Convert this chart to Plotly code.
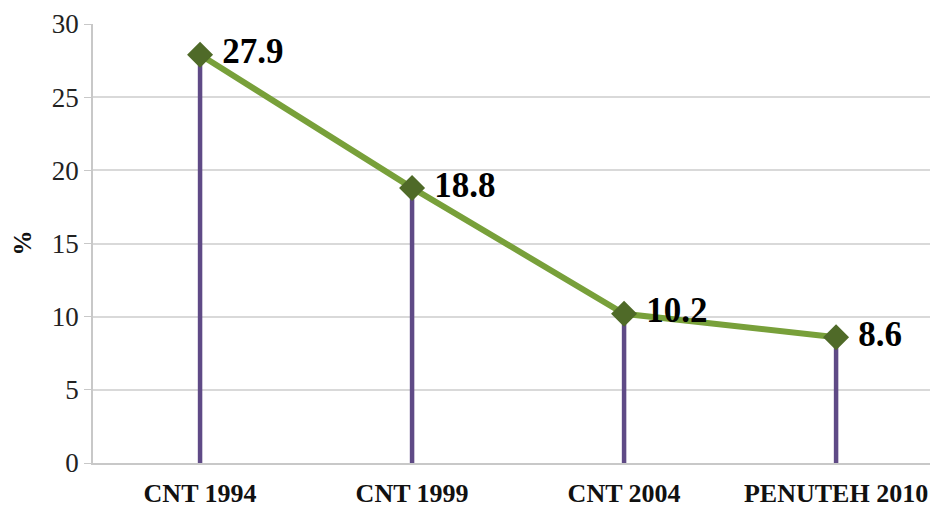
import plotly.graph_objects as go

categories = ["CNT 1994", "CNT 1999", "CNT 2004", "PENUTEH 2010"]
values = [27.9, 18.8, 10.2, 8.6]
labels = ["27.9", "18.8", "10.2", "8.6"]
y_ticks = [0, 5, 10, 15, 20, 25, 30]

xs = list(range(len(categories)))

fig = go.Figure()

# purple drop lines
for x, v in zip(xs, values):
    fig.add_trace(go.Scatter(x=[x, x], y=[0, v], mode="lines",
                             line=dict(color="#5F4A86", width=4.5),
                             hoverinfo="skip", showlegend=False))

fig.add_trace(go.Scatter(
    x=xs, y=values, mode="lines+markers+text",
    line=dict(color="#78A03A", width=6),
    marker=dict(symbol="diamond", size=20, color="#4F6A28"),
    text=["&nbsp;" + t for t in labels], textposition="middle right",
    textfont=dict(family="Liberation Serif", size=35, color="black", weight="bold"),
    showlegend=False, cliponaxis=False))

fig.add_annotation(text="<b>%</b>", xref="paper", yref="paper", x=-0.0848, y=0.5,
                   xanchor="center", yanchor="middle", textangle=-90, showarrow=False,
                   font=dict(family="Liberation Serif", size=25, color="#111"))

fig.update_layout(
    width=930, height=508,
    margin=dict(l=93, r=0, t=24, b=45),
    plot_bgcolor="white", paper_bgcolor="white",
    font=dict(family="Liberation Serif", color="#222"),
    xaxis=dict(range=[-0.505, 3.443], tickmode="array", tickvals=xs,
               ticktext=["<b>%s</b>" % c for c in categories],
               tickfont=dict(size=26, color="#111"), showgrid=False,
               showline=True, linecolor="#c8c8c8", linewidth=1.5, zeroline=False,
               ticks="", ticklabelstandoff=6, automargin=False),
    yaxis=dict(range=[0, 30], tickvals=y_ticks, tickfont=dict(size=27, color="#222"),
               showgrid=True, gridcolor="#d9d9d9", gridwidth=1.5,
               showline=True, linecolor="#c8c8c8", linewidth=1.5,
               ticks="outside", ticklen=7, tickcolor="#c8c8c8", zeroline=False,
               automargin=False),
)

fig.write_html("out.html", config={"displayModeBar": False},
               post_script="document.body.style.margin='0';document.body.style.overflow='hidden';")
